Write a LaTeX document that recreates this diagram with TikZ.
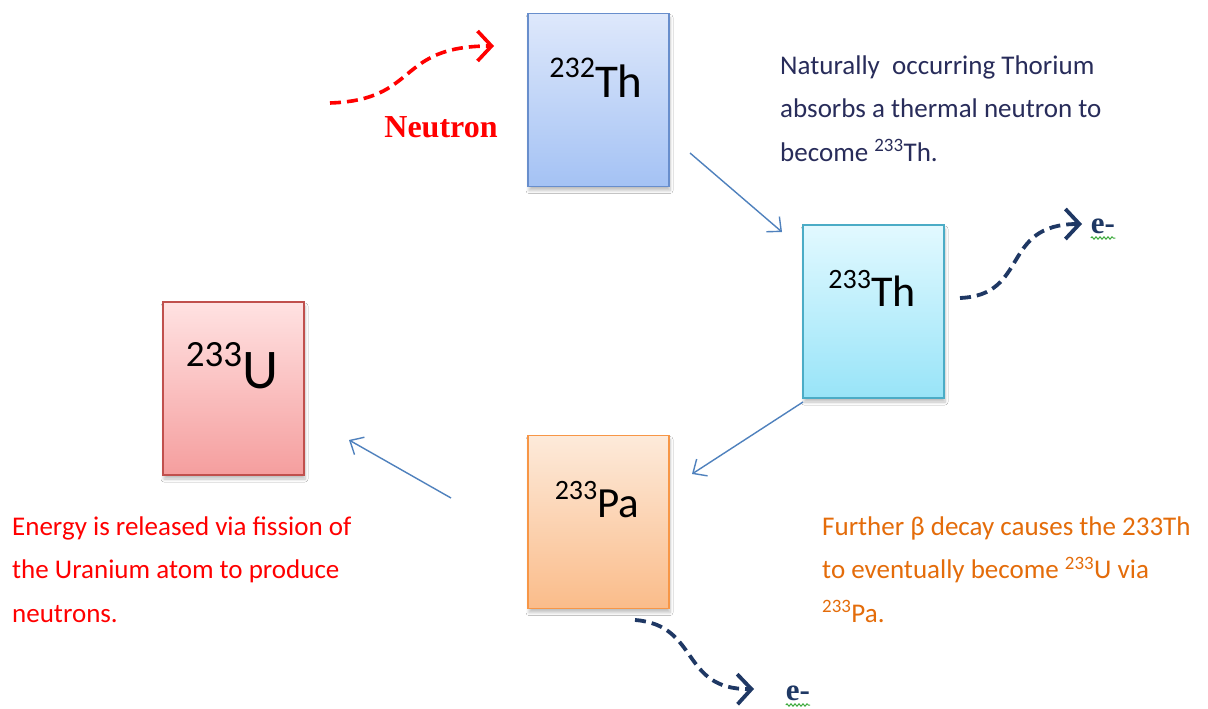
\documentclass[tikz,border=0pt]{standalone}
\usepackage{fontspec}
\setmainfont{Carlito}
\newfontfamily\serifbold{Liberation Serif}
\usetikzlibrary{arrows.meta,shadows.blur,decorations.pathmorphing}

\definecolor{thA}{RGB}{222,232,251}
\definecolor{thB}{RGB}{164,194,244}
\definecolor{thE}{RGB}{104,142,204}
\definecolor{tcA}{RGB}{226,249,255}
\definecolor{tcB}{RGB}{152,228,248}
\definecolor{tcE}{RGB}{75,172,198}
\definecolor{paA}{RGB}{253,234,218}
\definecolor{paB}{RGB}{250,188,138}
\definecolor{paE}{RGB}{247,150,70}
\definecolor{uA}{RGB}{255,226,226}
\definecolor{uB}{RGB}{245,158,158}
\definecolor{uE}{RGB}{192,80,77}
\definecolor{flow}{RGB}{79,129,189}
\definecolor{navy}{RGB}{31,56,100}
\definecolor{note}{RGB}{40,44,90}
\definecolor{orangetxt}{RGB}{228,108,10}
\definecolor{spell}{RGB}{60,170,60}

% superscripted mass number before an element symbol
\newcommand\nuclide[5]{\raisebox{#3pt}{\fontsize{#4}{#4}\selectfont #1}{\fontsize{#5}{#5}\selectfont #2}}

\tikzset{
  isobox/.style={draw, line width=1.6pt, minimum width=141pt, minimum height=173pt,
    inner sep=0pt, blur shadow={shadow xshift=1pt, shadow yshift=-4pt, shadow blur steps=6, shadow blur radius=3pt, shadow opacity=25}},
  isolabel/.style={anchor=base, inner sep=0pt, text=black},
  flowarrow/.style={draw=flow, line width=1.4pt, -{Straight Barb[length=11pt,width=20pt,line width=1.4pt]}},
  beta/.style={draw=navy, line width=3.8pt, dash pattern=on 11pt off 6pt,
    -{Straight Barb[length=14pt,width=30pt,line width=3.8pt]}},
  neutronpath/.style={draw=red, line width=3.6pt, dash pattern=on 11pt off 6pt,
    -{Straight Barb[length=14pt,width=30pt,line width=3.6pt]}},
  electron/.style={font=\serifbold\bfseries\fontsize{31}{31}\selectfont, text=navy, inner sep=0pt, anchor=base},
  squiggle/.style={draw=spell, line width=1pt, decorate, decoration={snake, amplitude=1.2pt, segment length=4pt}},
  para/.style={align=left, inner sep=0pt, anchor=base west, font=\fontsize{27}{43.5}\selectfont}
}

\begin{document}
\begin{tikzpicture}[x=1pt,y=-1pt]
  \useasboundingbox[fill=white] (0,0) rectangle (1208,709);

  % isotope boxes
  \node[isobox, draw=thE, top color=thA, bottom color=thB] (th232) at (598.5,100) {};
  \node[isobox, draw=tcE, top color=tcA, bottom color=tcB] (th233) at (873.5,311.5) {};
  \node[isobox, draw=paE, top color=paA, bottom color=paB] (pa233) at (598.5,522) {};
  \node[isobox, draw=uE, top color=uA, bottom color=uB] (u233) at (233.5,388.5) {};

  \node[isolabel] (th232l) at (596,97) {\nuclide{232}{Th}{20}{30}{47}};
  \node[isolabel] (th233l) at (872,306) {\nuclide{233}{Th}{18}{28}{44}};
  \node[isolabel] (pa233l) at (597,517) {\nuclide{233}{Pa}{18}{28}{43}};
  \node[isolabel] (u233l) at (232,388) {\nuclide{233}{U}{22}{37}{56}};

  % decay chain
  \coordinate (a1s) at (690,153);
  \coordinate (a1e) at (782,232);
  \coordinate (a2s) at (803,402);
  \coordinate (a2e) at (692,474);
  \coordinate (a3s) at (451,498);
  \coordinate (a3e) at (349,440);
  \draw[flowarrow] (a1s) -- (a1e);
  \draw[flowarrow] (a2s) -- (a2e);
  \draw[flowarrow] (a3s) -- (a3e);

  % incoming neutron
  \coordinate (ns) at (330,103);
  \coordinate (ne) at (494,46);
  \draw[neutronpath] (ns) .. controls (420,100) and (395,46) .. (ne);
  \node[text=red, font=\serifbold\bfseries\fontsize{32}{32}\selectfont, inner sep=0pt, anchor=base] (neutron) at (441,137) {Neutron};

  % emitted electrons
  \coordinate (b1s) at (960,298);
  \coordinate (b1e) at (1082,224);
  \draw[beta] (b1s) .. controls (1030,295) and (1000,224) .. (b1e);
  \node[electron] (e1) at (1103,233) {e-};
  \draw[squiggle] ([yshift=-5pt]e1.base west) -- ([yshift=-5pt]e1.base east);

  \coordinate (b2s) at (635,620);
  \coordinate (b2e) at (754,689);
  \draw[beta] (b2s) .. controls (700,625) and (680,690) .. (b2e);
  \node[electron] (e2) at (798,700) {e-};
  \draw[squiggle] ([yshift=-5pt]e2.base west) -- ([yshift=-5pt]e2.base east);

  % notes (anchored at the baseline of their last line)
  \node[para, text=note] (noteth) at (780,161)
    {Naturally\ \ occurring Thorium\\absorbs a thermal neutron to\\become \textsuperscript{233}Th.};
  \node[para, text=red] (noteu) at (12,622)
    {Energy is released via fission of\\the Uranium atom to produce\\neutrons.};
  \node[para, text=orangetxt] (notepa) at (822,622)
    {Further β decay causes the 233Th\\to eventually become \textsuperscript{233}U via\\\textsuperscript{233}Pa.};
\end{tikzpicture}
\end{document}
